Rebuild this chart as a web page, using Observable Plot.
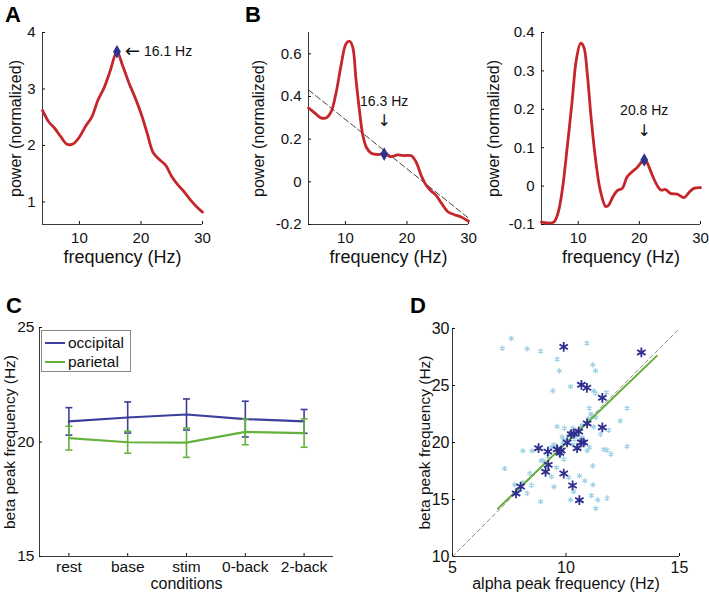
<!DOCTYPE html>
<html><head><meta charset="utf-8">
<script src="https://cdn.jsdelivr.net/npm/d3@7"></script>
<script src="https://cdn.jsdelivr.net/npm/@observablehq/plot@0.6"></script>
<style>
body{margin:0;background:#fff;font-family:"Liberation Sans",Arial,sans-serif}
#root{position:relative;width:709px;height:592px;overflow:hidden;background:#fff}
.legend{position:absolute;left:41px;top:330px;width:88px;height:40px;border:1px solid #8a8a8a;background:#fff;font-size:15.5px;color:#111}
.legend .row{position:absolute;left:3px;height:18px;display:flex;align-items:center;white-space:nowrap}
.legend .sw{display:inline-block;width:20px;height:0;border-top:2px solid;margin-right:3px}
</style></head><body><div id="root"></div>
<script>
// ---------- data ----------
const freqRange = [4, 30];
const freqTicks = [10, 20, 30];

// Panel A
const freqA  = [4,5,6,7,8,9,10,11,12,13,14,15,16.1,17,18,19,20,21,22,23,24,25,26,27,28,29,30];
const powerA = [2.62,2.42,2.30,2.15,2.02,2.03,2.15,2.34,2.50,2.80,3.02,3.32,3.66,3.42,3.12,2.86,2.57,2.22,1.87,1.75,1.65,1.45,1.30,1.18,1.04,0.92,0.82];
const rangeA = [0.6, 4];
const ticksA = [1, 2, 3, 4];
const peakA = [16.1, 3.66];

// Panel B (left)
const freqB1  = [4,5,6,6.9,7.7,8.5,9.3,10.1,10.7,11.2,11.7,12.3,12.8,13.4,14.2,15.3,16.3,17.4,18.5,19.6,20.7,21.5,22.3,23.1,23.9,24.7,25.6,26.6,27.7,28.8,30];
const powerB1 = [0.346,0.323,0.30,0.30,0.33,0.42,0.547,0.647,0.659,0.63,0.485,0.33,0.223,0.162,0.134,0.128,0.131,0.118,0.126,0.123,0.122,0.092,0.031,-0.015,-0.042,-0.062,-0.10,-0.139,-0.154,-0.165,-0.185];
const rangeB1 = [-0.2, 0.7];
const ticksB1 = [-0.2, 0, 0.2, 0.4, 0.6];
const peakB1 = [16.3, 0.13];
const fitFreqB1 = [4, 30];
const fitPowerB1 = [0.431, -0.17];

// Panel B (right)
const freqB2  = [4,4.9,6.0,6.7,7.4,8.2,9.0,9.7,10.4,10.9,11.5,12.1,12.8,13.6,14.5,15.0,15.7,16.4,17.2,18.0,18.8,19.6,20.8,21.2,21.8,22.6,23.5,24.3,25.1,26.2,27.3,28.1,28.9,30];
const powerB2 = [-0.094,-0.096,-0.094,-0.07,-0.01,0.10,0.22,0.33,0.372,0.363,0.29,0.18,0.075,-0.01,-0.053,-0.049,-0.027,-0.012,-0.006,0.024,0.037,0.048,0.068,0.063,0.041,0.011,-0.01,-0.009,-0.019,-0.021,-0.03,-0.017,-0.006,-0.004];
const rangeB2 = [-0.1, 0.4];
const ticksB2 = [-0.1, 0, 0.1, 0.2, 0.3, 0.4];
const peakB2 = [20.8, 0.068];

// Panel C
const conditions   = ["rest", "base", "stim", "0-back", "2-back"];
const occipital    = [20.90, 21.07, 21.20, 21.00, 20.90];
const occipitalErr = [0.60, 0.68, 0.68, 0.78, 0.52];
const parietal     = [20.17, 19.99, 19.97, 20.44, 20.39];
const parietalErr  = [0.52, 0.48, 0.64, 0.56, 0.62];
const xRangeC = [0.5, 5.5];
const rangeC = [15, 25];
const ticksC = [15, 20, 25];

// Panel D
const alphaDark = [9.90,13.32,10.68,10.92,11.60,10.93,11.60,10.23,10.34,10.56,10.05,10.68,10.78,8.79,9.20,9.61,9.73,9.79,10.49,9.22,9.10,9.90,10.29,8.00,7.80,10.59];
const betaDark  = [28.39,27.90,25.06,24.80,23.92,21.67,21.32,20.73,20.79,20.96,20.00,20.00,20.00,19.50,19.20,19.40,19.10,19.30,19.50,18.04,17.43,17.28,16.23,16.14,15.53,14.94];
const alphaLight = [7.20,7.59,8.29,8.88,10.92,9.61,9.71,11.18,11.30,9.42,10.20,11.22,11.30,11.78,11.02,12.69,11.31,12.39,10.99,9.61,9.93,10.30,10.64,11.22,11.88,11.52,10.46,10.37,10.12,10.30,9.86,9.47,9.35,10.56,11.03,10.93,11.66,11.81,11.98,12.69,8.51,8.10,9.73,9.90,9.00,11.18,7.30,9.58,9.36,10.12,10.59,10.83,8.12,7.74,8.48,9.47,11.19,10.34,11.12,11.81,10.20,11.40,8.88,11.31,8.29,9.83,10.71,8.00,9.6,9.9,10.1,10.5,10.7,11.0,9.2,8.9,8.4,10.6,11.1];
const betaLight  = [28.27,29.12,28.22,28.01,28.71,27.31,26.29,26.81,26.29,24.53,24.91,24.53,24.33,24.39,23.01,23.01,22.19,21.90,22.10,21.40,21.26,21.26,21.32,21.37,21.08,20.73,20.58,20.29,20.00,19.80,19.85,19.80,19.56,19.56,19.56,19.27,19.39,19.33,18.98,19.65,19.27,19.27,18.92,18.54,18.39,17.95,17.72,17.81,17.02,16.93,17.08,16.64,16.49,16.29,16.26,16.11,16.29,15.70,15.35,15.12,14.97,14.97,14.82,14.21,15.56,20.50,20.44,15.90,19.6,20.2,20.6,21.0,21.5,21.9,18.8,18.4,17.3,20.2,22.5];
const identityAlpha = [5, 15];
const identityBeta  = [10, 30];
const fitAlpha = [7, 14];
const fitBeta  = [14.2, 27.6];
const xRangeD = [5, 15];
const rangeD = [10, 30];
const ticksDx = [5, 10, 15];
const ticksDy = [10, 15, 20, 25, 30];

// ---------- styles ----------
const FONT = "Liberation Sans, Arial, Helvetica, sans-serif";
const ARROWFONT = "DejaVu Sans, Liberation Sans, sans-serif";
const RED = "#c4262a", DIAMOND = "#2b3590", AXIS = "#3a3a3a";
const BLUE = "#3b3f9c", GREEN = "#64b23c";
const DARKPT = "#2f2f8f", LIGHTPT = "#9fd0e4", FITGREEN = "#62ad35";

const root = document.getElementById("root");
function place(el, left, top) {
  const d = document.createElement("div");
  d.style.cssText = `position:absolute;left:${left}px;top:${top}px`;
  d.appendChild(el);
  root.appendChild(d);
}
const baseStyle = {fontFamily: FONT, fontSize: "15px", color: "#111", background: "none", overflow: "visible"};
const pairs = (xs, ys) => xs.map((x, i) => ({x, y: ys[i]}));

function spectrum({freq, power, yDomain, yTicks, peak, width, marginLeft, marginRight, ylabDx, note, ref}) {
  const marks = [
    Plot.ruleX([freqRange[0]], {stroke: AXIS}),
    Plot.ruleY([yDomain[0]], {stroke: AXIS}),
    Plot.axisX({ticks: freqTicks, tickSize: -3, tickPadding: 11, tickFormat: d => String(d), label: null}),
    Plot.axisY({ticks: yTicks, tickSize: -3, tickPadding: 10, tickFormat: d => String(d), label: null})
  ];
  if (ref) marks.push(Plot.line(pairs(ref[0], ref[1]), {x: "x", y: "y", stroke: "#444", strokeWidth: 1, strokeDasharray: "6,3"}));
  marks.push(Plot.line(pairs(freq, power), {x: "x", y: "y", stroke: RED, strokeWidth: 2.8, curve: "catmull-rom"}));
  marks.push(Plot.dot([{x: peak[0], y: peak[1]}], {x: "x", y: "y", symbol: "diamond", r: 3.2, fill: DIAMOND, stroke: DIAMOND}));
  const lab = peak[0] + " Hz";
  const pt = [{x: peak[0], y: peak[1]}];
  if (note === "right") {
    marks.push(Plot.text(pt, {x: "x", y: "y", text: () => "\u2190", textAnchor: "start", dx: 8, fontSize: 18, fontFamily: ARROWFONT, fill: "#111"}));
    marks.push(Plot.text(pt, {x: "x", y: "y", text: () => lab, textAnchor: "start", dx: 27, fontSize: 14}));
  } else {
    marks.push(Plot.text(pt, {x: "x", y: "y", text: () => lab, dy: note.dy - 1, fontSize: 14}));
    marks.push(Plot.text(pt, {x: "x", y: "y", text: () => "\u2193", dy: note.dy + 19, fontSize: 16, fontFamily: ARROWFONT, fill: "#111"}));
  }
  marks.push(Plot.text(["frequency (Hz)"], {frameAnchor: "bottom", text: d => d, textAnchor: "middle", lineAnchor: "middle", dy: 33, fontSize: 18}));
  marks.push(Plot.text(["power (normalized)"], {frameAnchor: "left", text: d => d, textAnchor: "middle", lineAnchor: "middle", rotate: -90, dx: ylabDx, fontSize: 16}));
  return Plot.plot({
    width, height: 280, marginLeft, marginRight, marginTop: 32, marginBottom: 56,
    style: baseStyle,
    x: {domain: freqRange},
    y: {domain: yDomain},
    marks
  });
}

place(spectrum({freq: freqA, power: powerA, yDomain: rangeA, yTicks: ticksA, peak: peakA, width: 230, marginLeft: 42, marginRight: 28, ylabDx: -27, note: "right"}), 0, 0);
place(spectrum({freq: freqB1, power: powerB1, yDomain: rangeB1, yTicks: ticksB1, peak: peakB1, width: 250, marginLeft: 78, marginRight: 12, ylabDx: -50, note: {dy: -52}, ref: [fitFreqB1, fitPowerB1]}), 230, 0);
place(spectrum({freq: freqB2, power: powerB2, yDomain: rangeB2, yTicks: ticksB2, peak: peakB2, width: 239, marginLeft: 71, marginRight: 9, ylabDx: -48, note: {dy: -48}}), 470, 0);

// ---------- Panel C ----------
const rowsC = conditions.map((c, i) => ({i: i + 1, c, occ: occipital[i], occE: occipitalErr[i], par: parietal[i], parE: parietalErr[i]}));
const cap = {draw(ctx) { ctx.moveTo(-3.5, 0); ctx.lineTo(3.5, 0); }};
function series(key, ekey, color) {
  return [
    Plot.ruleX(rowsC, {x: "i", y1: d => d[key] - d[ekey], y2: d => d[key] + d[ekey], stroke: color, strokeWidth: 1.6}),
    Plot.dot(rowsC, {x: "i", y: d => d[key] - d[ekey], symbol: cap, fill: "none", stroke: color, strokeWidth: 1.6}),
    Plot.dot(rowsC, {x: "i", y: d => d[key] + d[ekey], symbol: cap, fill: "none", stroke: color, strokeWidth: 1.6}),
    Plot.line(rowsC, {x: "i", y: key, stroke: color, strokeWidth: 2.2})
  ];
}
place(Plot.plot({
  width: 360, height: 302, marginLeft: 39, marginRight: 27, marginTop: 37, marginBottom: 36,
  style: baseStyle,
  x: {domain: xRangeC},
  y: {domain: rangeC},
  marks: [
    Plot.ruleX([xRangeC[0]], {stroke: AXIS}),
    Plot.ruleY([rangeC[0]], {stroke: AXIS}),
    Plot.axisX({ticks: rowsC.map(d => d.i), tickFormat: i => conditions[i - 1], tickSize: -3, tickPadding: 7, label: null, fontSize: 15.5}),
    Plot.axisY({ticks: ticksC, tickSize: -3, tickPadding: 8, label: null, fontSize: 15.5}),
    ...series("occ", "occE", BLUE),
    ...series("par", "parE", GREEN),
    Plot.text(["conditions"], {frameAnchor: "bottom", text: d => d, textAnchor: "middle", lineAnchor: "middle", dy: 27, fontSize: 16}),
    Plot.text(["beta peak frequency (Hz)"], {frameAnchor: "left", text: d => d, textAnchor: "middle", lineAnchor: "middle", rotate: -90, dx: -29, fontSize: 15.5})
  ]
}), 0, 290);

// legend for C
const leg = document.createElement("div");
leg.className = "legend";
leg.innerHTML = `<div class="row" style="top:3px"><span class="sw" style="border-color:${BLUE}"></span>occipital</div>
<div class="row" style="top:22px"><span class="sw" style="border-color:${GREEN}"></span>parietal</div>`;
root.appendChild(leg);

// ---------- Panel D ----------
place(Plot.plot({
  width: 349, height: 302, marginLeft: 92, marginRight: 30, marginTop: 38, marginBottom: 36,
  style: baseStyle,
  x: {domain: xRangeD},
  y: {domain: rangeD},
  marks: [
    Plot.ruleX([xRangeD[0]], {stroke: AXIS}),
    Plot.ruleY([rangeD[0]], {stroke: AXIS}),
    Plot.axisX({ticks: ticksDx, tickSize: -3, tickPadding: 8, label: null, fontSize: 16}),
    Plot.axisY({ticks: ticksDy, tickSize: -3, tickPadding: 6, label: null, fontSize: 16}),
    Plot.line(pairs(identityAlpha, identityBeta), {x: "x", y: "y", stroke: "#8a8a8a", strokeWidth: 1, strokeDasharray: "4,3"}),
    Plot.dot(pairs(alphaLight, betaLight), {x: "x", y: "y", symbol: "asterisk", r: 2.6, stroke: LIGHTPT, strokeWidth: 1.2}),
    Plot.line(pairs(fitAlpha, fitBeta), {x: "x", y: "y", stroke: FITGREEN, strokeWidth: 2}),
    Plot.dot(pairs(alphaDark, betaDark), {x: "x", y: "y", symbol: "asterisk", r: 4.6, stroke: DARKPT, strokeWidth: 1.8}),
    Plot.text(["alpha peak frequency (Hz)"], {frameAnchor: "bottom", text: d => d, textAnchor: "middle", lineAnchor: "middle", dy: 27, fontSize: 16}),
    Plot.text(["beta peak frequency (Hz)"], {frameAnchor: "left", text: d => d, textAnchor: "middle", lineAnchor: "middle", rotate: -90, dx: -27, fontSize: 15.5})
  ]
}), 360, 290);

// ---------- panel letters ----------
const ns = "http://www.w3.org/2000/svg";
const over = document.createElementNS(ns, "svg");
over.setAttribute("width", 709); over.setAttribute("height", 592);
over.style.cssText = "position:absolute;left:0;top:0;pointer-events:none";
[["A", 5, 22], ["B", 245, 22], ["C", 6, 313], ["D", 410, 313]].forEach(([t, x, y]) => {
  const el = document.createElementNS(ns, "text");
  el.setAttribute("x", x); el.setAttribute("y", y);
  el.setAttribute("font-family", FONT); el.setAttribute("font-size", 22); el.setAttribute("font-weight", "bold");
  el.textContent = t;
  over.appendChild(el);
});
root.appendChild(over);
</script>
</body></html>
